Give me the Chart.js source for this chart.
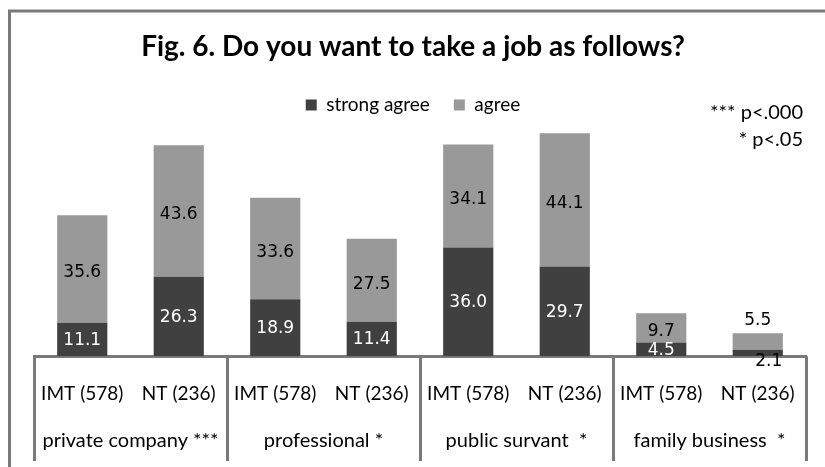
<!DOCTYPE html>
<html>
<head>
<meta charset="utf-8">
<title>Fig. 6</title>
<script src="https://cdn.jsdelivr.net/npm/chart.js@4.4.0/dist/chart.umd.min.js"></script>
<style>
    body { margin: 0; background: #fff; }
    #wrap { width: 825px; height: 467px; }
</style>
</head>
<body>
<div id="wrap"><canvas id="myChart" width="825" height="467"></canvas></div>
<script>
/* datos */
const grupos = ['private company ***', 'professional *', 'public survant  *', 'family business  *'];
const muestras = ['IMT (578)', 'NT (236)', 'IMT (578)', 'NT (236)', 'IMT (578)', 'NT (236)', 'IMT (578)', 'NT (236)'];
const strongAgree = [11.1, 26.3, 18.9, 11.4, 36.0, 29.7, 4.5, 2.1];
const agree = [35.6, 43.6, 33.6, 27.5, 34.1, 44.1, 9.7, 5.5];
const notas = ['*** p<.000', '* p<.05'];

const GRIS_LINEA = '#7a7a7a';
const FUENTE = 'Lato, "Open Sans", sans-serif';

// marco gris arriba y a la izquierda
const marco = {
    id: 'marco',
    beforeDraw(chart) {
        const ctx = chart.ctx;
        ctx.save();
        ctx.fillStyle = '#fff';
        ctx.fillRect(0, 0, chart.width, chart.height);
        ctx.strokeStyle = GRIS_LINEA;
        ctx.lineWidth = 3;
        ctx.beginPath();
        ctx.moveTo(chart.width, 11);
        ctx.lineTo(9.5, 11);
        ctx.lineTo(9.5, chart.height);
        ctx.stroke();
        ctx.restore();
    }
};

// valores dentro de cada segmento
const valores = {
    id: 'valores',
    afterDatasetsDraw(chart) {
        const ctx = chart.ctx;
        ctx.save();
        ctx.font = '17px "DejaVu Sans", sans-serif';
        ctx.textAlign = 'center';
        ctx.textBaseline = 'middle';
        chart.data.datasets.forEach((ds, i) => {
            const meta = chart.getDatasetMeta(i);
            meta.data.forEach((bar, j) => {
                const alto = Math.abs(bar.base - bar.y);
                let x = bar.x;
                let y = (bar.y + bar.base) / 2;
                if (i === 0) {
                    ctx.fillStyle = '#fff';
                    y += 1;
                    if (alto < 10) {
                        ctx.fillStyle = '#000';
                        x += 11;
                        y += 8;
                    }
                } else {
                    ctx.fillStyle = '#000';
                    y += 4;
                    if (alto < 20) {
                        y = bar.y - 13;
                    }
                }
                ctx.fillText(ds.data[j].toFixed(1), x, y);
            });
        });
        ctx.restore();
    }
};

// separadores de grupo, nombre de grupo y notas de significancia
const grupo = {
    id: 'grupo',
    afterDraw(chart) {
        const ctx = chart.ctx;
        const x = chart.scales.x;
        const area = chart.chartArea;
        const paso = x.getPixelForValue(1) - x.getPixelForValue(0);
        ctx.save();
        ctx.strokeStyle = GRIS_LINEA;
        ctx.lineWidth = 3;
        ctx.beginPath();
        for (let g = 0; g <= grupos.length; g++) {
            const px = Math.round(x.getPixelForValue(g * 2) - paso / 2) + 0.5;
            ctx.moveTo(px, area.bottom);
            ctx.lineTo(px, 461);
        }
        ctx.stroke();

        ctx.fillStyle = '#000';
        ctx.font = '20px ' + FUENTE;
        ctx.textAlign = 'center';
        ctx.textBaseline = 'middle';
        grupos.forEach((nombre, g) => {
            const cx = (x.getPixelForValue(g * 2) + x.getPixelForValue(g * 2 + 1)) / 2;
            ctx.fillText(nombre, cx, 441);
        });

        ctx.font = '20px ' + FUENTE;
        ctx.textAlign = 'right';
        ctx.fillText(notas[0], 803, 113);
        ctx.fillText(notas[1], 803, 140);
        ctx.restore();
    }
};

const ctx = document.getElementById('myChart');

new Chart(ctx, {
    type: 'bar',
    data: {
        labels: muestras,
        datasets: [{
            label: 'strong agree',
            data: strongAgree,
            backgroundColor: '#404040',
            borderWidth: 0
        },
        {
            label: 'agree',
            data: agree,
            backgroundColor: '#999999',
            borderWidth: 0
        }]
    },
    options: {
        responsive: false,
        animation: false,
        devicePixelRatio: 1,
        datasets: {
            bar: {
                barPercentage: 0.52,
                categoryPercentage: 1
            }
        },
        layout: {
            padding: { left: 20, right: 19, top: 12, bottom: 36 }
        },
        plugins: {
            title: {
                display: true,
                text: 'Fig. 6. Do you want to take a job as follows?',
                color: '#000',
                font: { family: FUENTE, size: 28, weight: 'bold' },
                padding: { top: 18, bottom: 8 }
            },
            legend: {
                position: 'top',
                labels: {
                    color: '#000',
                    font: { family: FUENTE, size: 19 },
                    boxWidth: 11,
                    boxHeight: 11,
                    padding: 24
                }
            },
            tooltip: { enabled: false }
        },
        scales: {
            x: {
                stacked: true,
                grid: { display: false, drawTicks: false },
                border: { display: true, color: GRIS_LINEA, width: 3 },
                ticks: {
                    color: '#000',
                    font: { family: FUENTE, size: 19 },
                    padding: 26,
                    maxRotation: 0,
                    autoSkip: false
                }
            },
            y: {
                stacked: true,
                min: 0,
                max: 76.7,
                grid: { display: false },
                border: { display: false },
                ticks: { display: false },
                afterFit(scale) {
                    scale.width = 14;
                }
            }
        }
    },
    plugins: [marco, valores, grupo]
});
</script>
</body>
</html>
